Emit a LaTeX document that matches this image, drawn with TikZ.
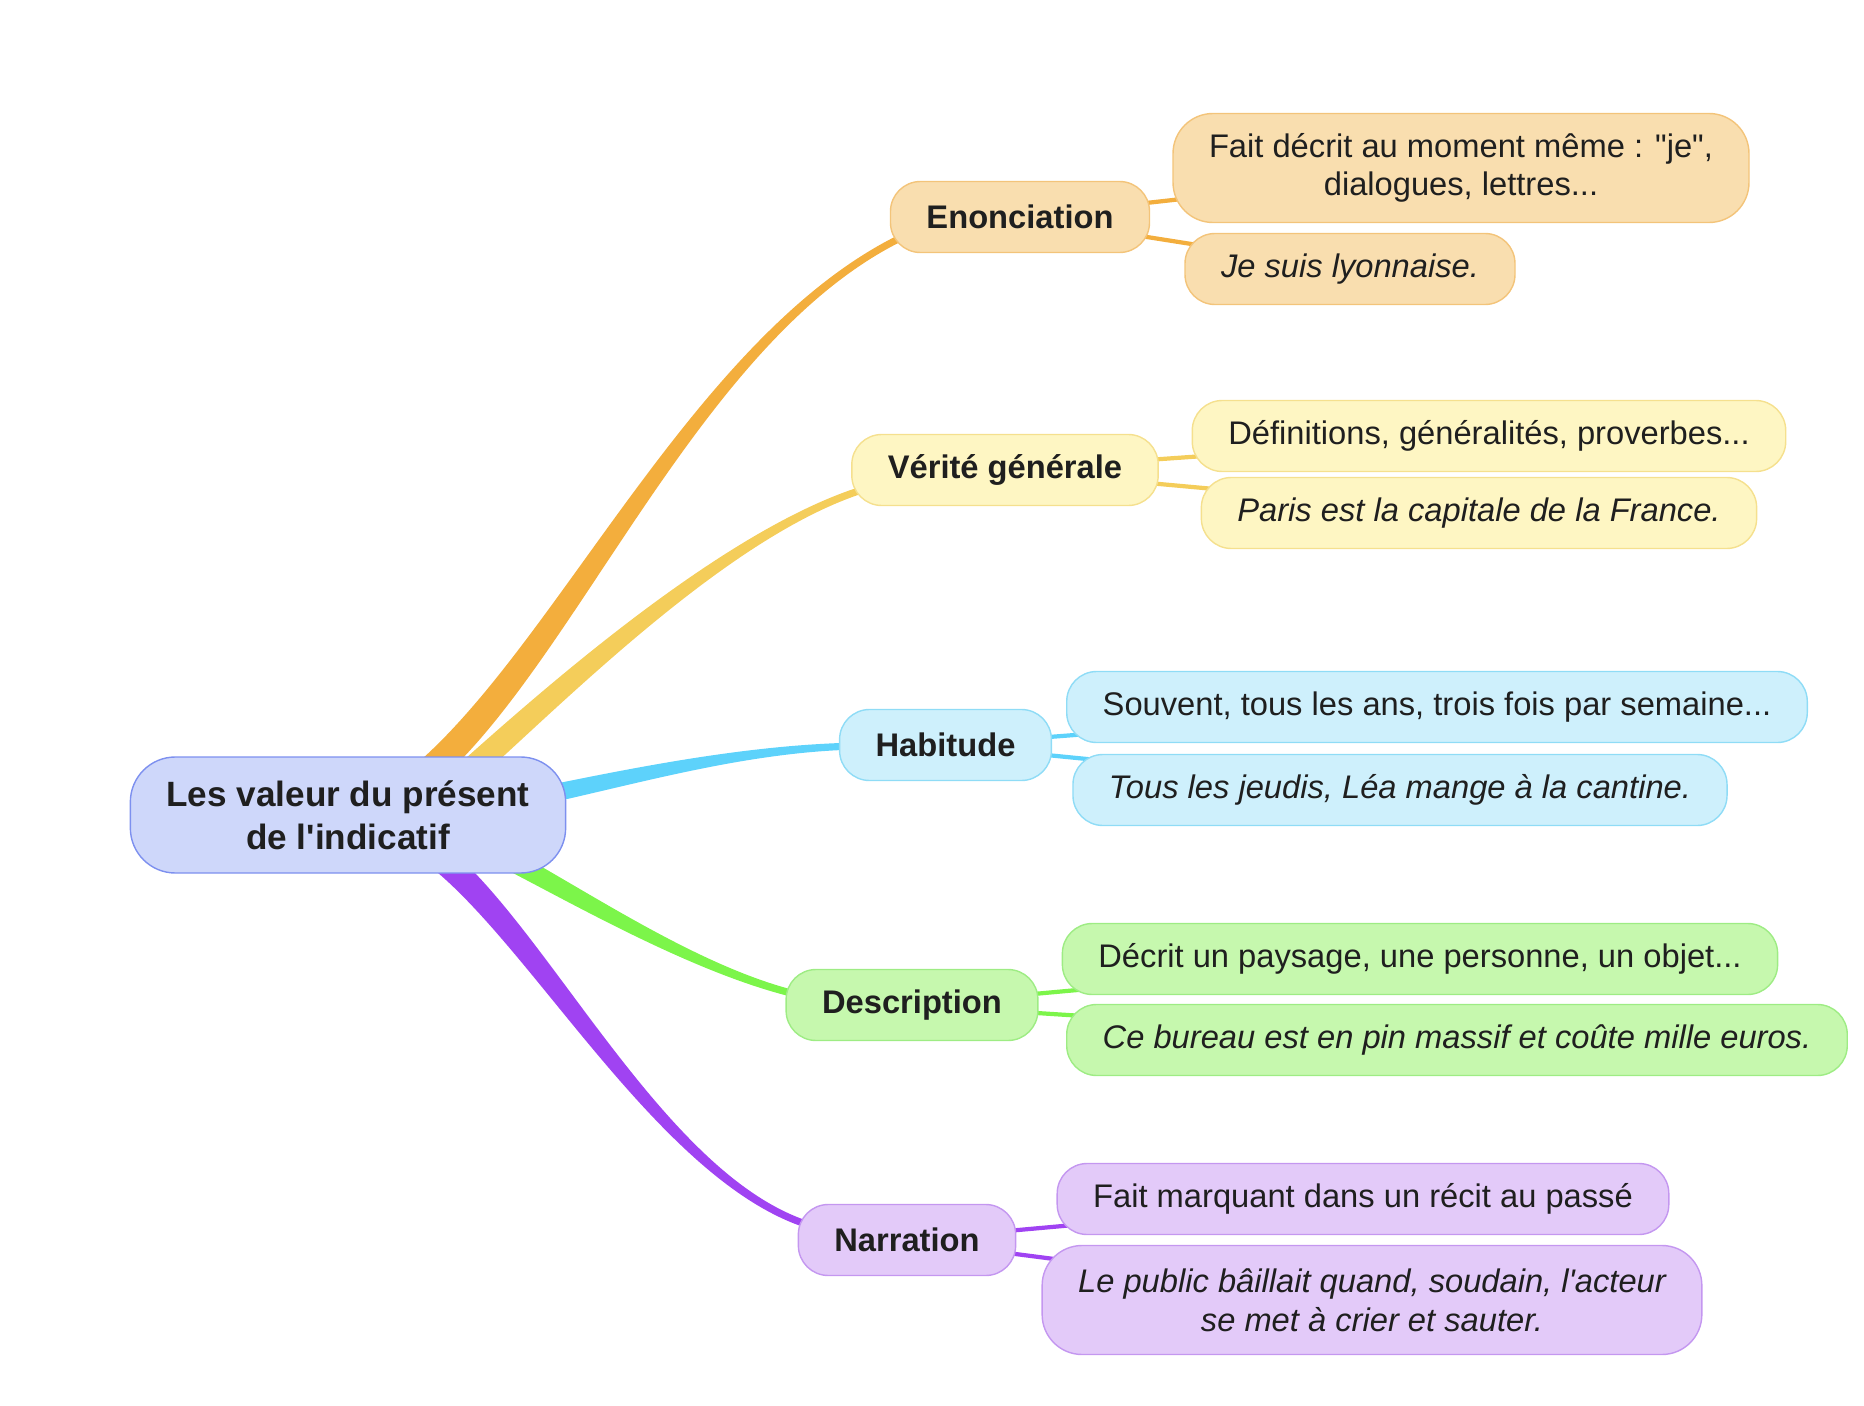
\documentclass[tikz,border=0pt]{standalone}
\usepackage{fontspec}
\setmainfont{Liberation Sans}
\usetikzlibrary{calc}
\pgfdeclarelayer{bg}
\pgfsetlayers{bg,main}

\definecolor{orangeline}{HTML}{F3AE3D}
\definecolor{orangefill}{HTML}{F9DEAF}
\definecolor{orangedraw}{HTML}{F3C47A}
\definecolor{yellowline}{HTML}{F4CD5A}
\definecolor{yellowfill}{HTML}{FEF6C3}
\definecolor{yellowdraw}{HTML}{F5E08E}
\definecolor{blueline}{HTML}{5DD2FB}
\definecolor{bluefill}{HTML}{CEF0FC}
\definecolor{bluedraw}{HTML}{8FDCF6}
\definecolor{greenline}{HTML}{7CF54A}
\definecolor{greenfill}{HTML}{C6F8AE}
\definecolor{greendraw}{HTML}{9EEC84}
\definecolor{purpleline}{HTML}{A043F2}
\definecolor{purplefill}{HTML}{E3CAF9}
\definecolor{purpledraw}{HTML}{C497F0}
\definecolor{rootfill}{HTML}{CED7FA}
\definecolor{rootdraw}{HTML}{7D90EF}
\definecolor{ink}{HTML}{1F1F1F}

% tapered branch: colour, half width at start, half width at end, start, control, control, end
\newcommand{\mapbranch}[7]{%
\fill[#1] ($(#4)!#2!90:(#5)$) .. controls ($(#5)!#2!-90:(#4)$) and ($(#6)!#3!90:(#7)$) .. ($(#7)!#3!-90:(#6)$)
  -- ($(#7)!#3!90:(#6)$) .. controls ($(#6)!#3!-90:(#7)$) and ($(#5)!#2!90:(#4)$) .. ($(#4)!#2!-90:(#5)$) -- cycle;}

\begin{document}
\begin{tikzpicture}[text=ink,
  box/.style={rounded corners=0.3cm, minimum height=0.71cm, inner xsep=0.36cm, inner ysep=0pt, line width=0.4pt, align=center, font=\fontsize{9.3}{11}\selectfont},
  topic/.style={box, font=\fontsize{9.3}{11}\selectfont\bfseries},
  example/.style={box, font=\fontsize{9.3}{11}\selectfont\itshape},
  tall/.style={minimum height=1.09cm, rounded corners=0.4cm},
  sub/.style={line width=1.2pt},
  rootbox/.style={fill=rootfill, draw=rootdraw},
  orangebox/.style={fill=orangefill, draw=orangedraw},
  yellowbox/.style={fill=yellowfill, draw=yellowdraw},
  bluebox/.style={fill=bluefill, draw=bluedraw},
  greenbox/.style={fill=greenfill, draw=greendraw},
  purplebox/.style={fill=purplefill, draw=purpledraw}]
\useasboundingbox (0,0) rectangle (18.64,-14.06);

\node [box, rootbox, font=\fontsize{10}{12.2}\selectfont\bfseries, minimum height=1.16cm, rounded corners=0.45cm] (root) at (3.48,-8.15) {Les valeur du présent\\de l\textquotesingle indicatif};

\node [topic, orangebox] (enon) at (10.20,-2.17) {Enonciation};
\node [box, orangebox, tall] (fait) at (14.61,-1.68) {Fait décrit au moment même : \textquotedbl je\textquotedbl,\\dialogues, lettres...};
\node [example, orangebox] (lyon) at (13.50,-2.69) {Je suis lyonnaise.};

\node [topic, yellowbox] (verite) at (10.05,-4.70) {Vérité générale};
\node [box, yellowbox] (defin) at (14.89,-4.36) {Définitions, généralités, proverbes...};
\node [example, yellowbox] (paris) at (14.79,-5.13) {Paris est la capitale de la France.};

\node [topic, bluebox] (habit) at (9.455,-7.45) {Habitude};
\node [box, bluebox] (souvent) at (14.37,-7.07) {Souvent, tous les ans, trois fois par semaine...};
\node [example, bluebox] (jeudi) at (14.00,-7.90) {Tous les jeudis, Léa mange à la cantine.};

\node [topic, greenbox] (descr) at (9.12,-10.05) {Description};
\node [box, greenbox] (paysage) at (14.20,-9.59) {Décrit un paysage, une personne, un objet...};
\node [example, greenbox] (bureau) at (14.57,-10.40) {Ce bureau est en pin massif et coûte mille euros.};

\node [topic, purplebox] (narr) at (9.07,-12.40) {Narration};
\node [box, purplebox] (marquant) at (13.63,-11.99) {Fait marquant dans un récit au passé};
\node [example, purplebox, tall] (public) at (13.72,-13.00) {Le public bâillait quand, soudain, l\textquotesingle acteur\\se met à crier et sauter.};

\coordinate (s1) at ($(root.center)+(0.77,0.40)$);
\coordinate (e1) at ($(enon.west)+(0.19,-0.17)$);
\coordinate (s2) at ($(root.center)+(1.17,0.40)$);
\coordinate (e2) at ($(verite.west)+(0.28,-0.15)$);
\coordinate (s3) at ($(root.center)+(1.72,0.15)$);
\coordinate (e3) at ($(habit.west)+(0.20,-0.01)$);
\coordinate (s4) at ($(root.center)+(1.42,-0.35)$);
\coordinate (e4) at ($(descr.west)+(0.23,0.08)$);
\coordinate (s5) at ($(root.center)+(0.82,-0.35)$);
\coordinate (e5) at ($(narr.west)+(0.31,0.10)$);

\begin{pgfonlayer}{bg}
\mapbranch{orangeline}{0.14cm}{0.035cm}{s1}{5.70,-6.50}{7.00,-3.30}{e1}
\mapbranch{yellowline}{0.12cm}{0.035cm}{s2}{5.60,-6.90}{7.40,-5.20}{e2}
\mapbranch{blueline}{0.09cm}{0.035cm}{s3}{6.20,-7.80}{7.40,-7.48}{e3}
\mapbranch{greenline}{0.10cm}{0.035cm}{s4}{5.70,-8.90}{7.00,-9.75}{e4}
\mapbranch{purpleline}{0.13cm}{0.035cm}{s5}{5.40,-9.30}{6.70,-12.00}{e5}

\draw[sub, orangeline] (enon.center) -- (fait.center);
\draw[sub, orangeline] (enon.center) -- (lyon.center);
\draw[sub, yellowline] (verite.center) -- (defin.center);
\draw[sub, yellowline] (verite.center) -- (paris.center);
\draw[sub, blueline] (habit.center) -- (souvent.center);
\draw[sub, blueline] (habit.center) -- (jeudi.center);
\draw[sub, greenline] (descr.center) -- (paysage.center);
\draw[sub, greenline] (descr.center) -- (bureau.center);
\draw[sub, purpleline] (narr.center) -- (marquant.center);
\draw[sub, purpleline] (narr.center) -- (public.center);
\end{pgfonlayer}
\end{tikzpicture}
\end{document}
